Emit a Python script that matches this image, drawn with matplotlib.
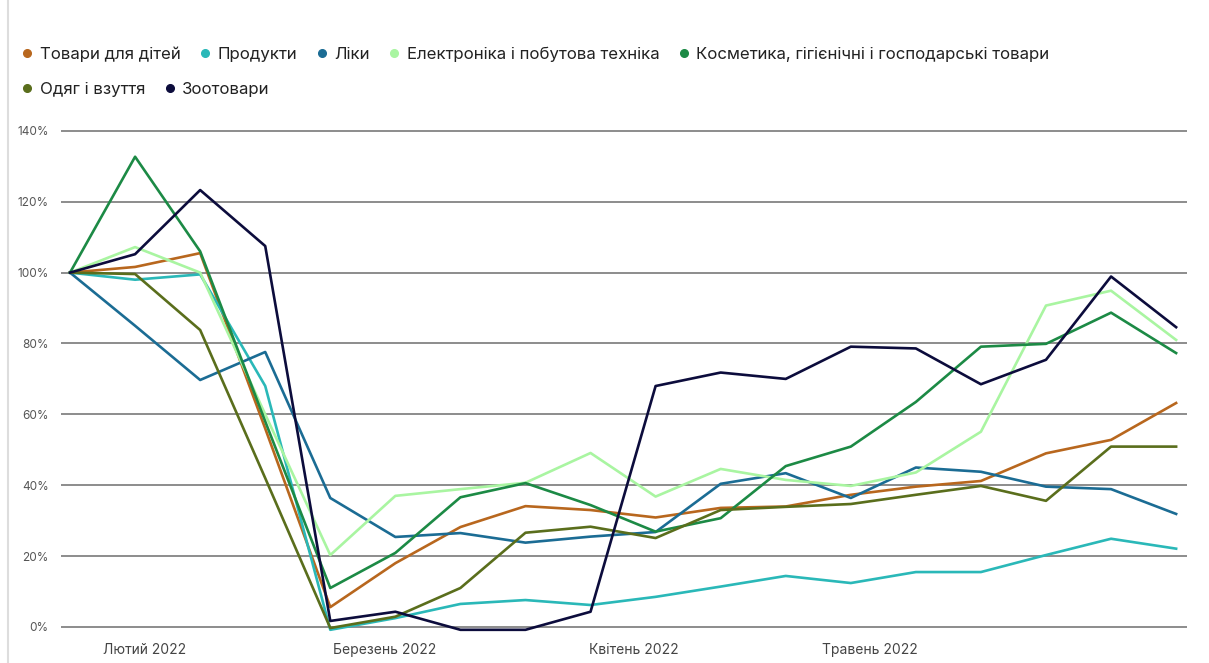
import matplotlib.pyplot as plt
from matplotlib.lines import Line2D

plt.rcParams['font.family'] = ['Inter', 'DejaVu Sans']

# Weekly index values (% of the first week)
weeks = list(range(18))
kids = [100, 101.6, 105.5, 56, 5.6, 18, 28.2, 34.1, 33, 30.9, 33.6, 34, 37.3, 39.6, 41.2, 49, 52.8, 63.2]
food = [100, 98, 99.5, 68, -0.8, 2.5, 6.5, 7.6, 6.2, 8.5, 11.4, 14.4, 12.4, 15.5, 15.5, 20.3, 24.9, 22.1]
pharma = [100, 85, 69.7, 77.6, 36.4, 25.4, 26.5, 23.8, 25.5, 26.8, 40.4, 43.4, 36.4, 45, 43.8, 39.6, 38.9, 31.9]
electronics = [100, 107.2, 100, 60, 20.3, 37, 38.9, 40.7, 49.1, 36.8, 44.6, 41.5, 39.8, 43.6, 55.1, 90.7, 94.9, 81]
cosmetics = [100, 132.7, 106, 58, 11, 20.9, 36.6, 40.6, 34.4, 26.9, 30.7, 45.4, 50.9, 63.5, 79.1, 79.9, 88.7, 77.3]
clothes = [100, 99.6, 83.8, 42, -0.3, 2.9, 11, 26.6, 28.3, 25.1, 33, 33.9, 34.7, 37.3, 39.8, 35.6, 50.9, 50.9]
pets = [100, 105.2, 123.3, 107.5, 1.7, 4.3, -0.8, -0.8, 4.3, 68, 71.8, 70, 79.1, 78.6, 68.5, 75.4, 98.9, 84.6]

names = ["Товари для дітей", "Продукти", "Ліки", "Електроніка і побутова техніка",
         "Косметика, гігієнічні і господарські товари", "Одяг і взуття", "Зоотовари"]
series = [kids, food, pharma, electronics, cosmetics, clothes, pets]
colors = ["#b8671e", "#2ab8b8", "#1b6c94", "#a9f5a1", "#1c8a45", "#5a6e1c", "#0c0c3c"]

month_pos = [1.14, 4.83, 8.66, 12.3]
month_labels = ["Лютий 2022", "Березень 2022", "Квітень 2022", "Травень 2022"]
y_ticks = [0, 20, 40, 60, 80, 100, 120, 140]

fig = plt.figure(figsize=(12.09, 6.63), dpi=100)
ax = fig.add_axes([0.0505, 0.0383, 0.9314, 0.775])

for vals, name, c in zip(series, names, colors):
    ax.plot(weeks, vals, color=c, linewidth=1.9, label=name)

ax.set_xlim(-0.138, 17.169)
ax.set_ylim(-3, 142)
ax.set_yticks(y_ticks)
ax.set_yticklabels([f"{t}%" for t in y_ticks])
ax.set_xticks(month_pos)
ax.set_xticklabels(month_labels)
ax.tick_params(axis='both', length=0, colors='#555555')
ax.tick_params(axis='y', labelsize=8.5, pad=9)
ax.tick_params(axis='x', labelsize=10, pad=4)
for t in ax.get_xticklabels():
    t.set_color('#444444')
ax.grid(axis='y', color='#6e6e6e', linewidth=1.1)
ax.set_axisbelow(True)
for s in ax.spines.values():
    s.set_visible(False)

# Legend in two rows, like the original
handles = [Line2D([], [], marker='o', linestyle='none', color=c, markersize=5.5) for c in colors]
leg_kw = dict(loc='upper left', frameon=False, fontsize=12.1, handlelength=0.6,
              handletextpad=0.45, columnspacing=1.15, borderaxespad=0, borderpad=0)
leg1 = fig.legend(handles[:5], names[:5], bbox_to_anchor=(0.0185, 0.93), ncol=5, **leg_kw)
leg2 = fig.legend(handles[5:], names[5:], bbox_to_anchor=(0.0185, 0.877), ncol=2, **leg_kw)
for leg in (leg1, leg2):
    for t in leg.get_texts():
        t.set_color('#222222')

# thin frame line at the left edge
fig.add_artist(Line2D([0.0066, 0.0066], [0, 1], color='#dddddd', linewidth=1.5))

plt.savefig("out.png", dpi=100)
